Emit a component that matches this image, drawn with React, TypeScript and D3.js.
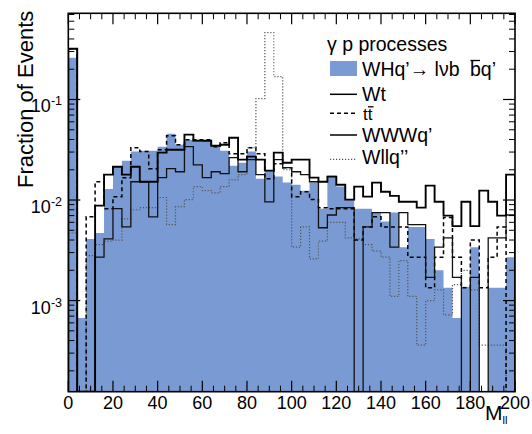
import React from 'react';
import * as d3 from 'd3';

// ---- data (fraction of events per 4-unit bin of M_ll, 0..200) ----
const binLow: number[] = d3.range(0, 200, 4);

const whqValues: number[] = [
  0.26, 0.00067, 0.0041, 0.0047, 0.0129, 0.0214, 0.0246, 0.0303, 0.031, 0.031,
  0.0339, 0.0457, 0.0355, 0.0398, 0.038, 0.039, 0.0347, 0.031, 0.0219, 0.0235,
  0.0303, 0.0163, 0.0196, 0.0171, 0.0149, 0.0142, 0.0124, 0.0149, 0.0082, 0.0175,
  0.0136, 0.0101, 0.0082, 0.0082, 0.0075, 0.0061, 0.0075, 0.0034, 0.0054, 0.0054,
  0.0041, 0.002, 0.00134, 0.00067, 0.00137, 0.0034, 0, 0.00134, 0.00134, 0.0027,
];
const wtValues: number[] = [
  0.32, 0, 0, 0.0088, 0.0179, 0.0214, 0.0179, 0.0214, 0.0152, 0.0152,
  0.0296, 0.0316, 0.0316, 0.0447, 0.0389, 0.0389, 0.0347, 0.0355, 0.0417, 0.0252,
  0.027, 0.0252, 0.0196, 0.0296, 0.0235, 0.0252, 0.0252, 0.0167, 0.0152, 0.0171,
  0.0142, 0.0101, 0.0136, 0.0108, 0.0149, 0.0121, 0.011, 0.0096, 0.0096, 0.0084,
  0.0139, 0.0096, 0.007, 0.0055, 0.0096, 0.0055, 0.0124, 0.0096, 0.007, 0.0179,
];
const ttbarValues: number[] = [
  0.32, 0, 0.0068, 0.0152, 0.0082, 0.0108, 0.0167, 0.0331, 0.0303, 0.0205,
  0.0316, 0.0437, 0.0355, 0.0398, 0.0398, 0.0398, 0.0339, 0.0372, 0.0289, 0.0289,
  0.0331, 0.0289, 0.0163, 0.023, 0.021, 0.0108, 0.0121, 0.0101, 0.0084, 0.0082,
  0.0082, 0.0082, 0.004, 0.0054, 0.0068, 0.0054, 0.0054, 0.0054, 0.0027, 0.0027,
  0.00134, 0.0027, 0.0067, 0.0027, 0.00134, 0.004, 0.00134, 0.0027, 0.0054, 0,
];
const wwwqValues: number[] = [
  0.32, 0, 0, 0.0027, 0.0041, 0.0082, 0.0054, 0.0152, 0.0152, 0.0068,
  0.0167, 0.0205, 0.0191, 0.0339, 0.0224, 0.0167, 0.0191, 0.0183, 0.0264, 0.0191,
  0.0252, 0.0179, 0.0096, 0.0252, 0.021, 0.0191, 0.0179, 0.0152, 0.0053, 0.0071,
  0.0084, 0.0084, 0, 0.0054, 0.0075, 0.0075, 0.0034, 0.0075, 0.0057, 0.0057,
  0.0017, 0.0034, 0.0042, 0.0017, 0, 0.0017, 0, 0.0042, 0.0042, 0.0071,
];
const wllqValues: number[] = [
  0.0047, 0, 0.0028, 0.0036, 0.0039, 0.004, 0.0065, 0.008, 0.0084, 0.0084,
  0.0106, 0.0057, 0.0086, 0.0101, 0.0136, 0.0124, 0.0118, 0.0136, 0.0159, 0.0179,
  0.0331, 0.102, 0.462, 0.169, 0.02, 0.0034, 0.0054, 0.0026, 0.0039, 0.006,
  0.006, 0.0042, 0.0041, 0.0036, 0.0031, 0.0027, 0.0011, 0.0025, 0.0011, 0.00036,
  0.001, 0.00128, 0.00072, 0.00144, 0.002, 0.00128, 0.00036, 0.00036, 0.00036, 0,
];

const xTickValues: number[] = [0, 20, 40, 60, 80, 100, 120, 140, 160, 180, 200];
const yDecades: number[] = [-1, -2, -3];

// ---- layout ----
const W = 532;
const H = 434;
const PL = 68.3;
const PR = 515;
const PT = 13.3;
const PB = 391.7;
const BIN = 4;
const YMIN = 1.24e-4;
const YMAX = 0.72;
const FONT = "'Liberation Sans', Arial, Helvetica, sans-serif";
const BLUE = '#7a9ad4';

const x = d3.scaleLinear().domain([0, 200]).range([PL, PR]);
const y = d3.scaleLog().domain([YMIN, YMAX]).range([PB, PT]);

const yv = (v: number) => (v > YMIN ? y(v) : PB);

function stepPoints(vals: number[]): [number, number][] {
  const pts: [number, number][] = [[x(0), PB]];
  vals.forEach((v, i) => {
    pts.push([x(binLow[i]), yv(v)]);
    pts.push([x(binLow[i] + BIN), yv(v)]);
  });
  pts.push([x(200), PB]);
  return pts;
}

const line = d3.line<[number, number]>().x((d) => d[0]).y((d) => d[1]);
const area = d3
  .area<[number, number]>()
  .x((d) => d[0])
  .y0(PB)
  .y1((d) => d[1]);

export default function App() {
  const xMinor = d3.range(0, 201, 5).filter((v) => v % 20 !== 0);
  const yMinor: number[] = [];
  for (let d = -4; d <= 0; d++) {
    for (let k = 2; k <= 9; k++) {
      const v = k * Math.pow(10, d);
      if (v > YMIN && v < YMAX) yMinor.push(v);
    }
  }
  const yMajor = yDecades.map((d) => Math.pow(10, d));

  return (
    <svg
      width={W}
      height={H}
      style={{ position: 'absolute', left: 0, top: 0, background: '#fff' }}
      fontFamily={FONT}
    >
      <rect x={0} y={0} width={W} height={H} fill="#fff" />
      <defs>
        <clipPath id="plot">
          <rect x={PL} y={PT} width={PR - PL} height={PB - PT} />
        </clipPath>
      </defs>
      <g clipPath="url(#plot)">
        <path d={area(stepPoints(whqValues)) || ''} fill={BLUE} stroke="none" />
        <path
          d={line(stepPoints(wllqValues)) || ''}
          fill="none"
          stroke="#555"
          strokeWidth={1.2}
          strokeDasharray="1.2,1.8"
        />
        <path
          d={line(stepPoints(ttbarValues)) || ''}
          fill="none"
          stroke="#000"
          strokeWidth={1.5}
          strokeDasharray="4,3"
        />
        <path d={line(stepPoints(wwwqValues)) || ''} fill="none" stroke="#111" strokeWidth={1.3} />
        <path d={line(stepPoints(wtValues)) || ''} fill="none" stroke="#000" strokeWidth={1.9} />
      </g>

      {/* frame */}
      <rect x={PL} y={PT} width={PR - PL} height={PB - PT} fill="none" stroke="#000" strokeWidth={1.6} />

      {/* x ticks (bottom & top) */}
      {xTickValues.map((v) => (
        <g key={'xm' + v}>
          <line x1={x(v)} x2={x(v)} y1={PB} y2={PB - 11} stroke="#000" strokeWidth={1.2} />
          <line x1={x(v)} x2={x(v)} y1={PT} y2={PT + 11} stroke="#000" strokeWidth={1.2} />
          <text x={x(v)} y={409} fontSize={18} textAnchor="middle" fill="#000">
            {v}
          </text>
        </g>
      ))}
      {xMinor.map((v) => (
        <g key={'xn' + v}>
          <line x1={x(v)} x2={x(v)} y1={PB} y2={PB - 6} stroke="#000" strokeWidth={1} />
          <line x1={x(v)} x2={x(v)} y1={PT} y2={PT + 6} stroke="#000" strokeWidth={1} />
        </g>
      ))}

      {/* y ticks (left & right) */}
      {yMajor.map((v, i) => (
        <g key={'ym' + v}>
          <line x1={PL} x2={PL + 12} y1={y(v)} y2={y(v)} stroke="#000" strokeWidth={1.2} />
          <line x1={PR} x2={PR - 12} y1={y(v)} y2={y(v)} stroke="#000" strokeWidth={1.2} />
          <text x={62} y={y(v) + 13} fontSize={18} textAnchor="end" fill="#000">
            10
            <tspan fontSize={12.5} dy={-7}>
              {String(yDecades[i])}
            </tspan>
          </text>
        </g>
      ))}
      {yMinor.map((v) => (
        <g key={'yn' + v}>
          <line x1={PL} x2={PL + 6} y1={y(v)} y2={y(v)} stroke="#000" strokeWidth={1} />
          <line x1={PR} x2={PR - 6} y1={y(v)} y2={y(v)} stroke="#000" strokeWidth={1} />
        </g>
      ))}

      {/* axis titles */}
      <text
        transform="translate(33,188) rotate(-90)"
        fontSize={22}
        textAnchor="start"
        fill="#000"
      >
        Fraction of Events
      </text>
      <text x={485} y={420} fontSize={21} fill="#000">
        M
        <tspan fontSize={11} dy={4}>
          ll
        </tspan>
      </text>

      {/* legend */}
      <g fontSize={19.5} fill="#000">
        <text x={327} y={51}>γ p processes</text>

        <rect x={330} y={61} width={27} height={15} fill={BLUE} />
        <text x={362} y={76}>
          WHq’→ lνb
        </text>
        <text x={470} y={76}>bq’</text>
        <line x1={470.5} x2={480} y1={60.5} y2={60.5} stroke="#000" strokeWidth={1.3} />

        <line x1={330} x2={357} y1={94.3} y2={94.3} stroke="#000" strokeWidth={1.5} />
        <text x={362} y={100.5}>Wt</text>

        <line x1={330} x2={357} y1={113.3} y2={113.3} stroke="#000" strokeWidth={1.5} strokeDasharray="4,3" />
        <text x={363} y={120} fontSize={17}>tt</text>
        <line x1={368} x2={373.5} y1={106.8} y2={106.8} stroke="#000" strokeWidth={1.3} />

        <line x1={330} x2={357} y1={135} y2={135} stroke="#000" strokeWidth={1.5} />
        <text x={362} y={141.5}>WWWq’</text>

        <line x1={330} x2={357} y1={159.3} y2={159.3} stroke="#555" strokeWidth={1.2} strokeDasharray="1.2,1.8" />
        <text x={362} y={163.5}>Wllq’’</text>
      </g>
    </svg>
  );
}
